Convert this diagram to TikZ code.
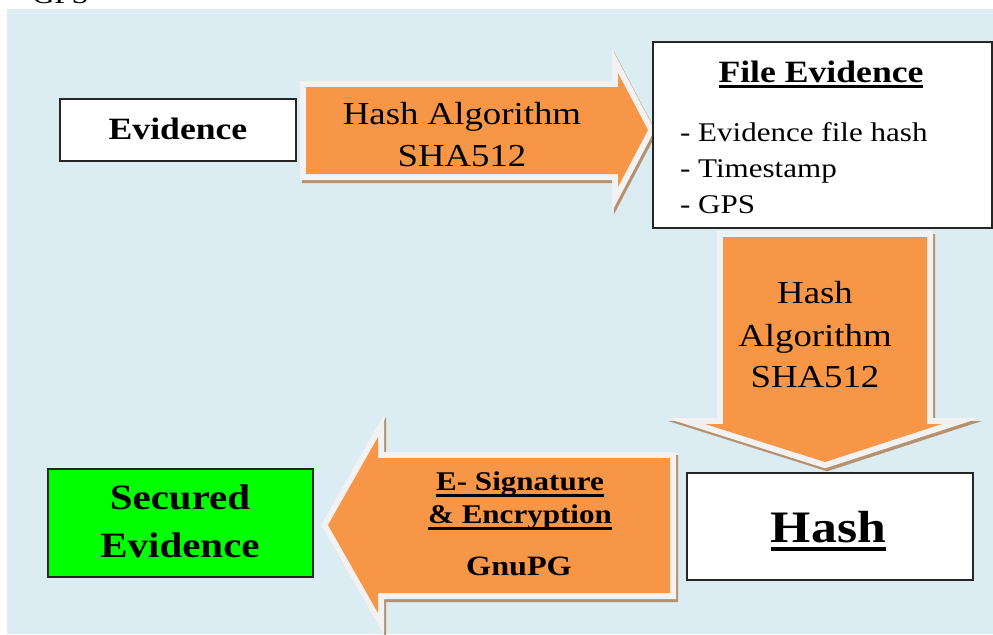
\documentclass[tikz,border=0pt]{standalone}
\usepackage{fontspec}
\setmainfont[FakeStretch=1.15]{Liberation Serif}

\definecolor{panelblue}{RGB}{219,236,242}
\definecolor{blockorange}{RGB}{247,150,70}
\definecolor{rimgray}{RGB}{242,242,242}
\definecolor{shadowbrown}{RGB}{181,145,111}
\definecolor{boxline}{RGB}{38,38,38}
\definecolor{securegreen}{RGB}{0,255,0}

% underline with chosen thickness (#1) and depth below baseline (#2)
\newcommand{\ulbar}[3]{\setbox0=\hbox{#3}\rlap{\rule[-#2]{\wd0}{#1}}\box0}

\tikzset{
  blockshadow/.style={draw=shadowbrown, fill=shadowbrown, line width=6pt, miter limit=10, line join=miter},
  blockrim/.style={draw=rimgray, fill=rimgray, line width=6pt, miter limit=10, line join=miter},
  blockbody/.style={fill=blockorange},
  framebox/.style={draw=boxline, line width=0.8pt, fill=white, inner sep=0pt},
  arrowtext/.style={anchor=base, font=\fontsize{16pt}{21pt}\selectfont},
  listtext/.style={anchor=base west, font=\fontsize{13.5pt}{18pt}\selectfont},
  signtext/.style={anchor=base, font=\fontsize{13.5pt}{16pt}\selectfont\bfseries},
}

\begin{document}
\begin{tikzpicture}[x=0.5pt,y=-0.5pt]
\useasboundingbox (0,0) rectangle (993,634);
\fill[white] (0,0) rectangle (993,634);
\node[listtext] (prev) at (25,3) {GPS};
\fill[panelblue] (7,9) rectangle (993,634);

% block arrow: Evidence -> File Evidence
\def\arrowA{(306,87) -- (618,87) -- (618,73) -- (648,130) -- (618,187) -- (618,174) -- (306,174) -- cycle}
\path[blockshadow, shift={(2,3)}] \arrowA;
\path[blockrim] \arrowA;
\path[blockbody] \arrowA;

% block arrow: File Evidence -> Hash
\def\arrowB{(723,237) -- (927,237) -- (927,424) -- (942,424) -- (825,462) -- (705,424) -- (723,424) -- cycle}
\path[blockshadow, shift={(2,3)}] \arrowB;
\path[blockrim] \arrowB;
\path[blockbody] \arrowB;

% block arrow: Hash -> Secured Evidence
\def\arrowC{(670,458) -- (670,593) -- (378,593) -- (378,613) -- (328,525) -- (378,437) -- (378,458) -- cycle}
\path[blockshadow, shift={(2,3)}] \arrowC;
\path[blockrim] \arrowC;
\path[blockbody] \arrowC;

% boxes
\node[framebox, minimum width=118pt, minimum height=31pt] (evidence) at (178,130) {};
\node[framebox, minimum width=169.5pt, minimum height=93pt] (fileev) at (822.5,135) {};
\node[framebox, minimum width=143pt, minimum height=53.5pt] (hash) at (830,526.5) {};
\node[framebox, fill=securegreen, minimum width=132.5pt, minimum height=54pt] (secured) at (180.5,523) {};

% texts
\node[anchor=base, font=\fontsize{15.5pt}{20pt}\selectfont\bfseries] (evtxt) at (178,139) {Evidence};

\node[arrowtext] (a1l1) at (462,124) {Hash Algorithm};
\node[arrowtext] (a1l2) at (462,166) {SHA512};

\node[anchor=base, font=\fontsize{15.5pt}{20pt}\selectfont\bfseries] (fetitle) at (821,82) {\ulbar{1.5pt}{3pt}{File Evidence}};
\node[listtext] (fe1) at (673,141) {- Evidence file hash};
\node[listtext] (fe2) at (673,177) {- Timestamp};
\node[listtext] (fe3) at (673,213) {- GPS};

\node[arrowtext] (a2l1) at (815,303) {Hash};
\node[arrowtext] (a2l2) at (815,346) {Algorithm};
\node[arrowtext] (a2l3) at (815,387) {SHA512};

\node[anchor=base, font=\fontsize{22.5pt}{27pt}\selectfont\bfseries] (hashtxt) at (828.5,542) {\ulbar{2.3pt}{4.6pt}{Hash}};

\node[signtext] (a3l1) at (520,490) {\ulbar{1.5pt}{3.6pt}{E- Signature}};
\node[signtext] (a3l2) at (520,523) {\ulbar{1.5pt}{3.3pt}{\& Encryption}};
\node[signtext, font=\fontsize{14pt}{16pt}\selectfont\bfseries] (a3l3) at (519,575) {GnuPG};

\node[anchor=base, font=\fontsize{17.8pt}{24pt}\selectfont\bfseries] (sec1) at (180,509) {Secured};
\node[anchor=base, font=\fontsize{17.8pt}{24pt}\selectfont\bfseries] (sec2) at (180,557) {Evidence};
\end{tikzpicture}
\end{document}
